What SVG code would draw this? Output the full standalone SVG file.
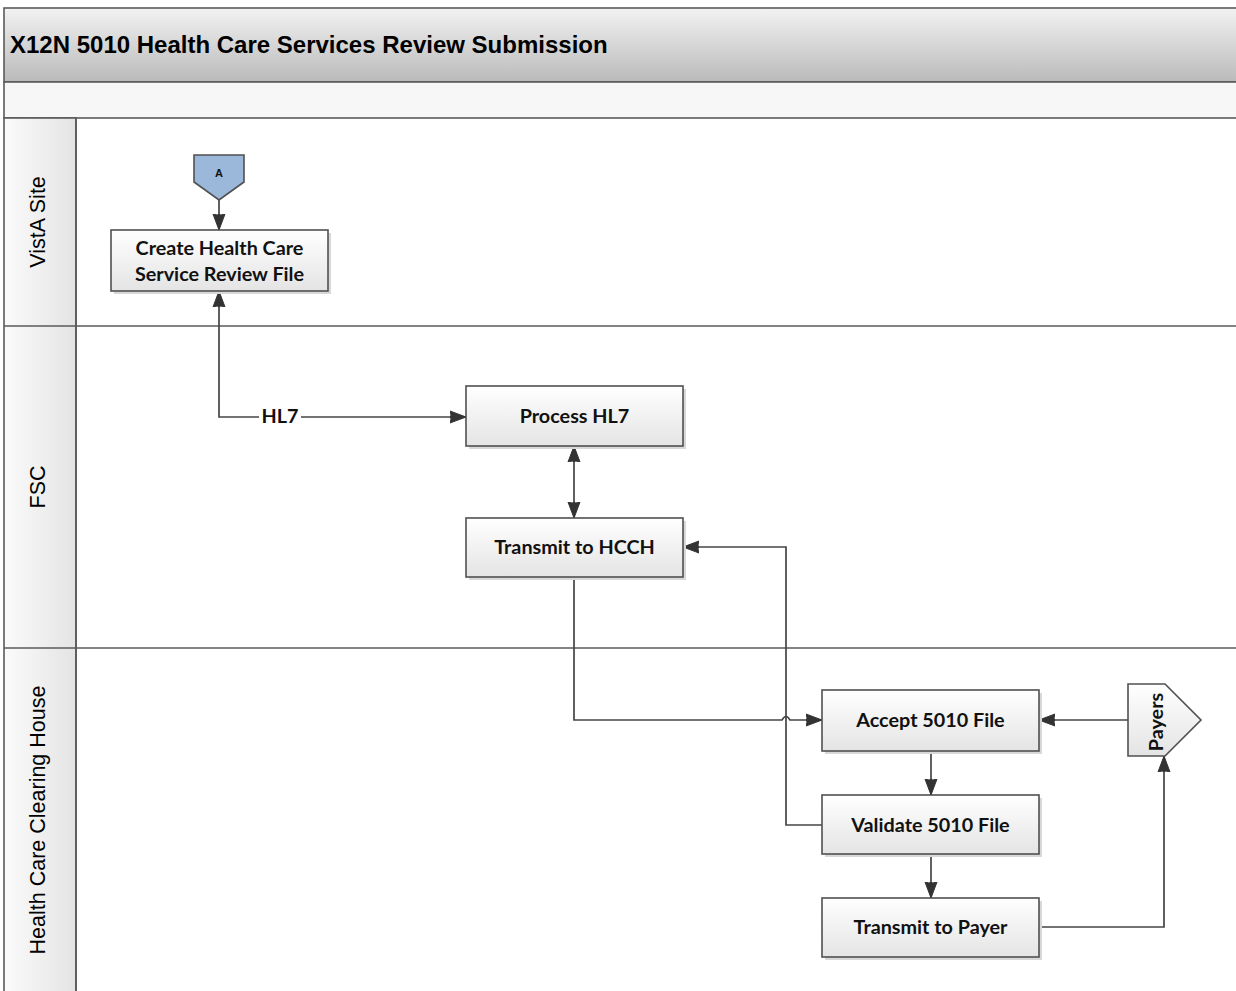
<svg xmlns="http://www.w3.org/2000/svg" width="1236" height="991" viewBox="0 0 1236 991">
<style>
.ttl{font-family:"Liberation Sans",Arial,sans-serif;font-weight:bold;font-size:24px;fill:#000}
.lane{font-family:"Liberation Sans",Arial,sans-serif;font-size:21.5px;fill:#000;text-anchor:middle}
.nt{font-family:Lato,"Open Sans",sans-serif;font-weight:bold;font-size:19.8px;fill:#111;text-anchor:middle}
.box{fill:url(#ng);stroke:#505050;stroke-width:1.6}
.sh{fill:#d8d8d8}
.ln{fill:none;stroke:#454545;stroke-width:1.7}
.grid{stroke:#5a5a5a;stroke-width:1.6}
</style>
<defs>
<linearGradient id="tg" x1="0" y1="0" x2="0" y2="1">
<stop offset="0" stop-color="#f2f2f2"/><stop offset="1" stop-color="#bababa"/>
</linearGradient>
<linearGradient id="hg" x1="0" y1="0" x2="1" y2="0">
<stop offset="0" stop-color="#fbfbfb"/><stop offset="1" stop-color="#e4e4e4"/>
</linearGradient>
<linearGradient id="ng" x1="0" y1="0" x2="0" y2="1">
<stop offset="0" stop-color="#ffffff"/><stop offset="1" stop-color="#e4e4e4"/>
</linearGradient>
<marker id="ar" viewBox="0 0 16 14" refX="16" refY="7" markerWidth="16" markerHeight="14" markerUnits="userSpaceOnUse" orient="auto-start-reverse">
<path d="M0,1 L16,7 L0,13 L1.5,7 Z" fill="#333" stroke="#333" stroke-width="1" stroke-linejoin="round"/>
<rect x="0" y="5.5" width="6" height="3" fill="#333"/>
</marker>
</defs>
<rect width="1236" height="991" fill="#fff"/>
<g id="frame">
<rect x="4" y="8" width="1240" height="74" fill="url(#tg)" class="grid"/>
<rect x="4" y="82" width="1240" height="36" fill="#f7f7f7" class="grid"/>
<rect x="4" y="118" width="72" height="880" fill="url(#hg)" class="grid"/>
<line x1="4" y1="326" x2="1240" y2="326" class="grid"/>
<line x1="4" y1="648" x2="1240" y2="648" class="grid"/>
<line x1="76" y1="118" x2="76" y2="995" class="grid"/>
<text class="ttl" x="10" y="53">X12N 5010 Health Care Services Review Submission</text>
<text class="lane" transform="translate(45,222) rotate(-90)">VistA Site</text>
<text class="lane" transform="translate(45,487) rotate(-90)">FSC</text>
<text class="lane" transform="translate(45,820) rotate(-90)">Health Care Clearing House</text>
</g>
<g id="connectors">
<line x1="219" y1="200" x2="219" y2="230" class="ln" marker-end="url(#ar)"/>
<polyline points="219,291 219,417 466,417" class="ln" marker-start="url(#ar)" marker-end="url(#ar)"/>
<rect x="259" y="406" width="42" height="20" fill="#fff"/>
<text x="280" y="423" font-family="Lato,'Open Sans',sans-serif" font-weight="bold" font-size="19.8" text-anchor="middle" fill="#111">HL7</text>
<line x1="574" y1="446" x2="574" y2="518" class="ln" marker-start="url(#ar)" marker-end="url(#ar)"/>
<path d="M574,577 V720 H782 q4,-7 8,0 H822" class="ln" marker-end="url(#ar)"/>
<polyline points="822,825 786,825 786,547 683,547" class="ln" marker-end="url(#ar)"/>
<line x1="1128" y1="720" x2="1039" y2="720" class="ln" marker-end="url(#ar)"/>
<line x1="931" y1="751" x2="931" y2="795" class="ln" marker-end="url(#ar)"/>
<line x1="931" y1="854" x2="931" y2="898" class="ln" marker-end="url(#ar)"/>
<polyline points="1039,927 1164,927 1164,756" class="ln" marker-end="url(#ar)"/>
</g>
<g id="nodeA">
<path d="M194,155 H244 V182 L219,200 L194,182 Z" fill="#9bb7d9" stroke="#505050" stroke-width="1.6"/>
<text x="219" y="177" font-family="'Liberation Sans',Arial,sans-serif" font-weight="bold" font-size="11" text-anchor="middle" fill="#111">A</text>
</g>
<g id="create">
<rect x="114" y="233" width="217" height="61" class="sh"/>
<rect x="111" y="230" width="217" height="61" class="box"/>
<text class="nt" x="219.5" y="255">Create Health Care</text>
<text class="nt" x="219.5" y="281">Service Review File</text>
</g>
<g id="processHL7">
<rect x="469" y="389" width="217" height="60" class="sh"/>
<rect x="466" y="386" width="217" height="60" class="box"/>
<text class="nt" x="574.5" y="423">Process HL7</text>
</g>
<g id="transmitHCCH">
<rect x="469" y="521" width="217" height="59" class="sh"/>
<rect x="466" y="518" width="217" height="59" class="box"/>
<text class="nt" x="574.5" y="554">Transmit to HCCH</text>
</g>
<g id="accept">
<rect x="825" y="693" width="217" height="61" class="sh"/>
<rect x="822" y="690" width="217" height="61" class="box"/>
<text class="nt" x="930.5" y="727">Accept 5010 File</text>
</g>
<g id="validate">
<rect x="825" y="798" width="217" height="59" class="sh"/>
<rect x="822" y="795" width="217" height="59" class="box"/>
<text class="nt" x="930.5" y="832">Validate 5010 File</text>
</g>
<g id="transmitPayer">
<rect x="825" y="901" width="217" height="59" class="sh"/>
<rect x="822" y="898" width="217" height="59" class="box"/>
<text class="nt" x="930.5" y="934">Transmit to Payer</text>
</g>
<g id="payers">
<path d="M1128,684 H1165 L1201,720 L1165,756 H1128 Z" fill="url(#ng)" stroke="#505050" stroke-width="1.6"/>
<text class="nt" transform="translate(1163,722) rotate(-90)" font-size="18">Payers</text>
</g>
</svg>
